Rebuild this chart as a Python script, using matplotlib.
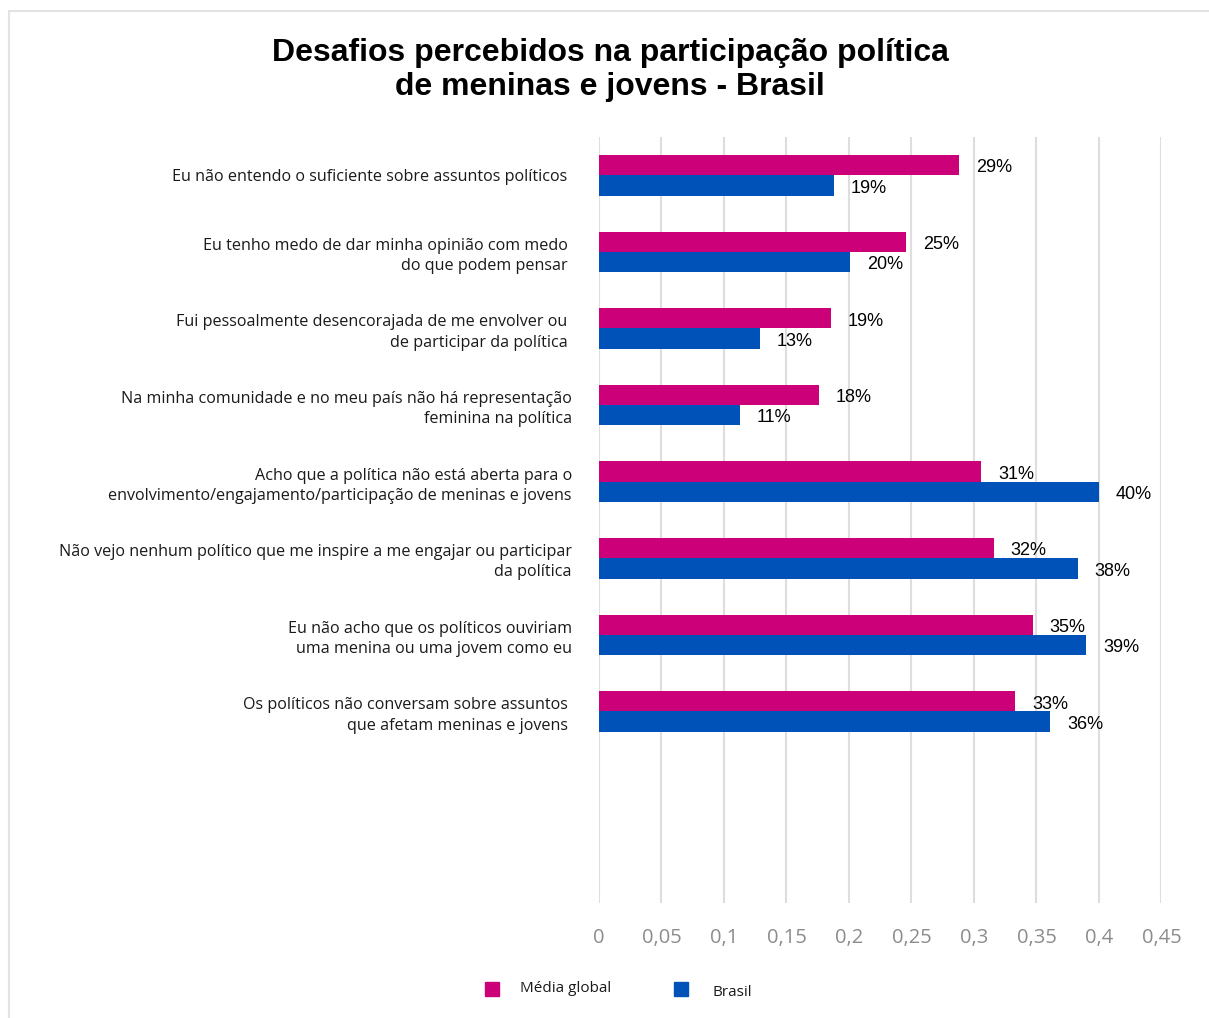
import matplotlib.pyplot as plt
from matplotlib.patches import Rectangle
import numpy as np

# Survey answers (share of respondents)
categories = [
    "Eu não entendo o suficiente sobre assuntos políticos ",
    "Eu tenho medo de dar minha opinião com medo \ndo que podem pensar ",
    "Fui pessoalmente desencorajada de me envolver ou \nde participar da política ",
    "Na minha comunidade e no meu país não há representação\nfeminina na política",
    "Acho que a política não está aberta para o\nenvolvimento/engajamento/participação de meninas e jovens",
    "Não vejo nenhum político que me inspire a me engajar ou participar\nda política",
    "Eu não acho que os políticos ouviriam\numa menina ou uma jovem como eu",
    "Os políticos não conversam sobre assuntos \nque afetam meninas e jovens ",
]
media_global = [0.288, 0.246, 0.186, 0.176, 0.306, 0.316, 0.347, 0.333]
brasil = [0.188, 0.201, 0.129, 0.113, 0.400, 0.383, 0.390, 0.361]
x_ticks = [0, 0.05, 0.1, 0.15, 0.2, 0.25, 0.3, 0.35, 0.4, 0.45]

MAGENTA = "#CC0078"
BLUE = "#0052B8"
GRID = "#DEDEDE"

fig = plt.figure(figsize=(12.09, 10.18), dpi=100)
ax = fig.add_axes([0.4954, 0.1130, 0.4653, 0.7525])

y = np.arange(len(categories))
h = 0.265
ax.barh(y - h / 2, media_global, h, color=MAGENTA, zorder=3)
ax.barh(y + h / 2, brasil, h, color=BLUE, zorder=3)

for yi, v in zip(y - h / 2, media_global):
    ax.annotate(f"{v:.0%}", (v, yi), xytext=(12, -2), textcoords="offset points",
                ha="left", va="center", fontsize=13, family="Liberation Sans")
for yi, v in zip(y + h / 2, brasil):
    ax.annotate(f"{v:.0%}", (v, yi), xytext=(12, -2), textcoords="offset points",
                ha="left", va="center", fontsize=13, family="Liberation Sans")

# ten category slots on the axis, only eight of them used
ax.set_ylim(9.5, -0.5)
ax.set_xlim(0, 0.45)
ax.set_yticks(y)
ax.set_yticklabels(categories, fontsize=11.6, family="Open Sans", color="#1a1a1a",
                   ha="right", linespacing=1.35)
ax.tick_params(axis="y", length=0, pad=19.5)
ax.set_xticks(x_ticks)
ax.set_xticklabels([f"{t:g}".replace(".", ",") for t in x_ticks],
                   fontsize=14.5, family="Open Sans", color="#8C8C8C")
ax.tick_params(axis="x", length=0, pad=18)
ax.grid(axis="x", color=GRID, linewidth=1.5, zorder=0)
for s in ax.spines.values():
    s.set_visible(False)

fig.text(0.5045, 0.931, "Desafios percebidos na participação política\nde meninas e jovens - Brasil",
         ha="center", va="center", fontsize=23, fontweight="bold",
         family="Liberation Sans", linespacing=1.18)

# legend drawn by hand below the axis
W, H = 1209, 1018
fig.add_artist(Rectangle((485 / W, 1 - 996 / H), 14 / W, 14 / H,
                         transform=fig.transFigure, color=MAGENTA))
fig.text(520 / W, 1 - 988 / H, "Média global", ha="left", va="center",
         fontsize=11, family="Open Sans", color="#1a1a1a")
fig.add_artist(Rectangle((674 / W, 1 - 996 / H), 14 / W, 14 / H,
                         transform=fig.transFigure, color=BLUE))
fig.text(713 / W, 1 - 993 / H, "Brasil", ha="left", va="center",
         fontsize=11, family="Open Sans", color="#1a1a1a")

# chart frame
fig.add_artist(Rectangle((8.5 / W, -0.05), 1.2, 1.05 - 10.5 / H,
                         transform=fig.transFigure, fill=False,
                         edgecolor="#E3E3E3", linewidth=1.5))

fig.savefig("out.png", dpi=100)
